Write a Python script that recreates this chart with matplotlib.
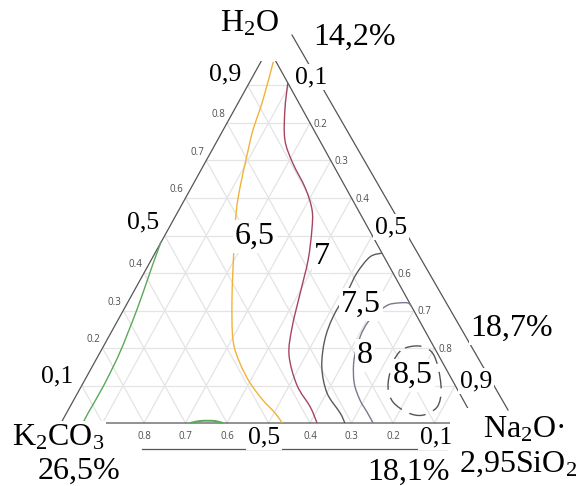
import numpy as np
import matplotlib
matplotlib.use("Agg")
import matplotlib.pyplot as plt
from matplotlib.patches import Rectangle, PathPatch
from matplotlib.path import Path

plt.rcParams["mathtext.fontset"] = "custom"
plt.rcParams["mathtext.rm"] = "Liberation Serif"

# Contour lines: H2O fraction and Na2O*2,95SiO2 fraction
green_h2o = [0.48, 0.416, 0.363, 0.301, 0.24, 0.176, 0.096, 0.027, 0.0]
green_na = [0.0, 0.011, 0.021, 0.032, 0.041, 0.049, 0.053, 0.052, 0.053]

green_small_h2o = [0.0, 0.005, 0.006, 0.005, 0.0]
green_small_na = [0.311, 0.33, 0.35, 0.37, 0.39]

yellow_h2o = [0.963, 0.861, 0.781, 0.728, 0.629, 0.56, 0.461, 0.328, 0.221, 0.16, 0.107, 0.061, 0.027, 0.0]
yellow_na = [0.030, 0.056, 0.072, 0.087, 0.117, 0.142, 0.186, 0.248, 0.304, 0.351, 0.402, 0.456, 0.502, 0.533]

red_h2o = [0.907, 0.835, 0.755, 0.693, 0.627, 0.568, 0.515, 0.435, 0.347, 0.256, 0.181, 0.101, 0.043, 0.0]
red_na = [0.093, 0.122, 0.162, 0.212, 0.275, 0.321, 0.347, 0.378, 0.403, 0.429, 0.459, 0.518, 0.579, 0.617]

gray_h2o = [0.453, 0.443, 0.4, 0.349, 0.283, 0.221, 0.149, 0.08, 0.027, 0.0]
gray_na = [0.547, 0.523, 0.513, 0.515, 0.514, 0.525, 0.554, 0.601, 0.659, 0.684]

purple_h2o = [0.309, 0.32, 0.32, 0.315, 0.296, 0.269, 0.229, 0.168, 0.107, 0.061, 0.029, 0.0]
purple_na = [0.691, 0.676, 0.652, 0.631, 0.616, 0.605, 0.606, 0.622, 0.653, 0.690, 0.723, 0.752]

inner_h2o = [0.2, 0.205, 0.189, 0.149, 0.088, 0.043, 0.021, 0.027, 0.056, 0.096, 0.147, 0.181, 0.2]
inner_na = [0.729, 0.763, 0.799, 0.834, 0.872, 0.885, 0.862, 0.823, 0.772, 0.740, 0.722, 0.719, 0.729]

left_ticks = [0.2, 0.3, 0.4, 0.6, 0.7, 0.8]
bottom_ticks = [0.8, 0.7, 0.6, 0.4, 0.3, 0.2]
right_ticks = [0.2, 0.3, 0.4, 0.6, 0.7, 0.8]

# triangle geometry in pixels
x0, y0 = 61, 423
W, H = 415, 375


def to_xy(h2o, na):
    """Ternary (H2O, Na2O) -> pixel position."""
    h2o = np.asarray(h2o, dtype=float)
    na = np.asarray(na, dtype=float)
    return x0 + W * (na + h2o / 2), y0 - H * h2o


def curve(h2o, na, color, lw=1.0, ls="-", closed=False):
    """Smooth curve through the read points (Catmull-Rom as Bezier)."""
    xs, ys = to_xy(h2o, na)
    pts = np.column_stack([xs, ys])
    n = len(pts)
    verts = [pts[0]]
    codes = [Path.MOVETO]
    for i in range(n - 1):
        if i > 0:
            p0 = pts[i - 1]
        else:
            p0 = pts[-2] if closed else pts[0]
        p1 = pts[i]
        p2 = pts[i + 1]
        if i + 2 < n:
            p3 = pts[i + 2]
        else:
            p3 = pts[1] if closed else pts[i + 1]
        verts += [p1 + (p2 - p0) / 6, p2 - (p3 - p1) / 6, p2]
        codes += [Path.CURVE4] * 3
    ax.add_patch(PathPatch(Path(verts, codes), fill=False, edgecolor=color, lw=lw,
                           linestyle=ls, zorder=4))


fig = plt.figure(figsize=(5.85, 4.86), dpi=100)
ax = fig.add_axes([0, 0, 1, 1])
ax.set_xlim(0, 585)
ax.set_ylim(486, 0)
ax.axis("off")

# grid
grid_c = "#e4e4e4"
for v in np.arange(0.1, 1.0, 0.1):
    xs, ys = to_xy([v, v], [0, 1 - v])
    ax.plot(xs, ys, color=grid_c, lw=0.9, zorder=1)
    xs, ys = to_xy([0, 1 - v], [v, v])
    ax.plot(xs, ys, color=grid_c, lw=0.9, zorder=1)
    xs, ys = to_xy([0, 1 - v], [1 - v, 0])
    ax.plot(xs, ys, color=grid_c, lw=0.9, zorder=1)

# triangle edges
edge_c = "#555555"
xs, ys = to_xy([0, 1, 0, 0], [0, 0, 1, 0])
ax.plot(xs, ys, color=edge_c, lw=0.9, zorder=2)

# outer lines (right and bottom)
ax.plot([292, 508], [35, 410], color=edge_c, lw=0.9, zorder=2)
ax.plot([142, 447], [y0 + 26, y0 + 26], color=edge_c, lw=0.9, zorder=2)

# blanked areas at the apex and the right corner
ax.add_patch(Rectangle((243, 30), 47, 31, facecolor="white", edgecolor="none", zorder=3))
ax.add_patch(Rectangle((450, 408), 32, 18, facecolor="white", edgecolor="none", zorder=5))

# contours
curve(green_h2o, green_na, "#5aa85a")
curve(green_small_h2o, green_small_na, "#5aa85a", lw=1.4)
curve(yellow_h2o, yellow_na, "#f2b23a")
curve(red_h2o, red_na, "#a4465e")
curve(gray_h2o, gray_na, "#5a5a5a")
curve(purple_h2o, purple_na, "#80758c")
curve(inner_h2o, inner_na, "#555555", ls=(0, (12, 6)), closed=True)

# small tick labels
tick_c = "#4d4d4d"
tick_fs = 7
for v in left_ticks:
    x, y = to_xy(v, 0)
    ax.text(x - 2, y - 8.5, f"{v:.1f}", ha="right", va="center", fontsize=tick_fs,
            family="Open Sans", color=tick_c, zorder=5)
for v in bottom_ticks:
    x, y = to_xy(0, 1 - v)
    ax.text(x, y + 13, f"{v:.1f}", ha="center", va="center", fontsize=tick_fs,
            family="Open Sans", color=tick_c, zorder=5)
for v in right_ticks:
    x, y = to_xy(1 - v, v)
    ax.text(x + 4, y + 1, f"{v:.1f}", ha="left", va="center", fontsize=tick_fs,
            family="Open Sans", color=tick_c, zorder=5)

# big labels
box = dict(facecolor="white", edgecolor="none", pad=1.2)
big = 23
small = 18.5


def label(x, y, s, size):
    ax.text(x, y, s, ha="center", va="baseline", fontsize=size, family="Liberation Serif",
            color="black", bbox=box, zorder=6)


label(250, 32, r"H$\mathregular{_2}$O", big)
label(355, 45, "14,2%", big)
label(225, 80, "0,9", small)
label(311, 83, "0,1", small)
label(143, 228, "0,5", small)
label(255, 244, "6,5", big)
label(322, 264, "7", big)
label(391, 233, "0,5", small)
label(361, 312, "7,5", big)
label(365, 363, "8", big)
label(413, 383, "8,5", big)
label(512, 336, "18,7%", big)
label(476, 387, "0,9", small)
label(57, 382, "0,1", small)
label(58, 445, r"K$\mathregular{_2}$CO$\mathregular{_3}$", big)
label(79, 479, "26,5%", big)
label(264, 443, "0,5", small)
label(436, 443, "0,1", small)
label(409, 480, "18,1%", big)
label(524, 437, r"Na$\mathregular{_2}$O·", big)
label(518, 472, r"2,95SiO$\mathregular{_2}$", big)

fig.savefig("out.png", dpi=100)
